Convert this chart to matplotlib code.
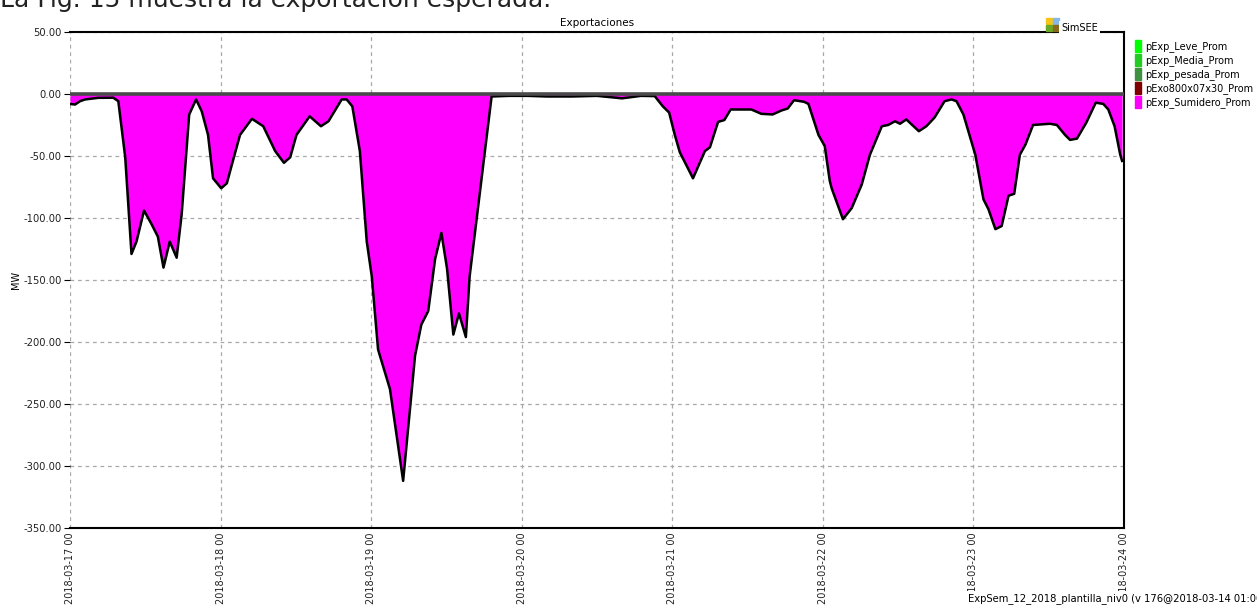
import numpy as np
import matplotlib.pyplot as plt
from matplotlib.patches import Rectangle

# hours since 2018-03-17 00:00 and exported power (MW)
hours = [0.0, 0.8, 1.6, 2.4, 4.5, 6.9, 7.7, 8.8, 9.8, 10.6, 11.8, 13.0, 14.0, 14.9,
         15.9, 17.0, 17.8, 19.0, 20.1, 21.0, 22.0, 22.8, 24.1, 25.0, 25.8, 27.1,
         29.0, 30.8, 32.7, 34.1, 35.1, 36.1, 38.2, 40.0, 41.2, 43.3, 44.1, 45.0,
         46.2, 47.3, 48.1, 49.1, 51.0, 53.1, 55.0, 56.0, 57.1, 58.2, 59.2, 60.1,
         61.1, 62.0, 63.1, 63.7, 67.2, 70.0, 73.0, 76.0, 80.0, 84.0, 86.0, 88.0,
         89.5, 91.0, 93.2, 94.5, 95.5, 96.4, 97.2, 99.3, 101.2, 102.0, 103.3,
         104.3, 105.3, 108.6, 110.2, 112.0, 113.4, 114.4, 115.4, 117.0, 117.7,
         119.3, 120.3, 121.1, 121.4, 123.2, 124.6, 126.2, 127.5, 129.4, 130.4,
         131.5, 132.3, 133.3, 135.3, 136.5, 137.8, 139.4, 140.5, 141.3, 142.4,
         144.3, 145.6, 146.4, 147.5, 148.5, 149.6, 150.5, 151.4, 152.3, 153.5,
         156.2, 157.3, 158.6, 159.4, 160.5, 162.0, 163.5, 164.7, 165.5, 166.5,
         167.4, 167.7]
mw = [-8, -8.5, -5.8, -4.4, -3.1, -3, -5.8, -51, -129, -119, -94, -105, -115, -140,
      -119, -132, -97, -16.5, -4.4, -14, -33, -68, -76, -72, -57, -33,
      -20, -26, -46, -55.5, -51, -33, -18, -26, -22, -4.4, -4.4, -10,
      -46, -119, -147, -206, -238, -312, -211, -186, -175, -133, -112, -141,
      -194, -177, -196, -147, -2, -1.5, -1.5, -2, -2, -1.5, -2.5, -3.5,
      -2.5, -1.5, -1.7, -10, -15, -33, -47, -68, -46, -43, -22.5,
      -21, -12.5, -12.5, -16, -16.5, -13.3, -11.7, -5, -6.3, -8,
      -33, -42, -70, -76, -101, -92, -73, -49, -26, -25,
      -22, -24, -20.5, -30, -26, -19, -5.8, -4.4, -5.8, -16.5,
      -49, -85, -93, -109, -106.5, -82, -80.5, -49, -40.7, -25,
      -24, -25, -33, -37, -36, -23, -7, -8, -12.5, -26,
      -49, -54]

day_labels = ['2018-03-17 00', '2018-03-18 00', '2018-03-19 00', '2018-03-20 00',
              '2018-03-21 00', '2018-03-22 00', '2018-03-23 00', '2018-03-24 00']
y_ticks = [50, 0, -50, -100, -150, -200, -250, -300, -350]

series_names = ['pExp_Leve_Prom', 'pExp_Media_Prom', 'pExp_pesada_Prom',
                'pExo800x07x30_Prom', 'pExp_Sumidero_Prom']
series_colors = ['#00ff00', '#22cc22', '#3f913f', '#800000', '#ff00ff']

W, H = 1257, 606
fig = plt.figure(figsize=(W / 100, H / 100), dpi=100)
ax = fig.add_axes([70 / W, 1 - 528 / H, (1124 - 70) / W, (528 - 32) / H])

ax.fill_between(hours, mw, 0, color='#ff00ff', lw=0, zorder=2)
ax.plot(hours, mw, color='black', lw=1.8, zorder=3)
ax.axhline(0, color='#4a4a4a', lw=2.6, zorder=4)

ax.set_xlim(0, 168)
ax.set_ylim(-350, 50)
ax.set_xticks(np.arange(0, 169, 24))
ax.set_xticklabels(day_labels, rotation=90, fontsize=7, color='#222222')
ax.set_yticks(y_ticks)
ax.set_yticklabels(['%.2f' % v for v in y_ticks], fontsize=7.2, color='#222222')
ax.tick_params(axis='x', length=0, pad=3)
ax.tick_params(axis='y', length=4, width=0.8, pad=2)
ax.grid(True, color='#a8a8a8', ls=(0, (3, 3)), lw=0.9, zorder=1)
ax.set_axisbelow(True)

ax.spines['left'].set_visible(False)
for s in ['top', 'bottom', 'right']:
    ax.spines[s].set_linewidth(1.5)
    ax.spines[s].set_color('black')

ax.set_ylabel('MW', fontsize=7, labelpad=2)
ax.set_title('Exportaciones', fontsize=7.5, pad=4)

# legend at the right
handles = [Rectangle((0, 0), 1, 1, color=c) for c in series_colors]
fig.legend(handles, series_names, loc='upper left', bbox_to_anchor=(1131 / W, 1 - 36 / H),
           frameon=False, fontsize=7, handlelength=0.6, handleheight=1.6,
           handletextpad=0.5, labelspacing=0.15, borderaxespad=0)

# SimSEE logo
logo = [('#f5c518', 1046, 18), ('#84b8e8', 1053, 18), ('#6aaa22', 1046, 25), ('#8a6a1a', 1053, 25)]
for c, x0, y0 in logo:
    fig.patches.append(Rectangle((x0 / W, 1 - (y0 + 6) / H), 6 / W, 6 / H, color=c,
                                 transform=fig.transFigure, zorder=5))
fig.text(1061 / W, 1 - 33 / H, 'SimSEE', fontsize=7, va='bottom', ha='left',
         bbox=dict(facecolor='white', edgecolor='none', pad=1.5), zorder=6)

# document text, cut at the top of the picture
fig.text(0, 1 - 6.5 / H, 'La Fig. 15 muestra la exportación esperada.', fontsize=18,
         va='baseline', ha='left', color='#222222')

fig.text(968 / W, 2 / H, 'ExpSem_12_2018_plantilla_niv0 (v 176@2018-03-14 01:00',
         fontsize=7.2, va='bottom', ha='left',
         bbox=dict(facecolor='white', edgecolor='none', pad=1.5), zorder=6)

fig.savefig('out.png', dpi=100, facecolor='white')
